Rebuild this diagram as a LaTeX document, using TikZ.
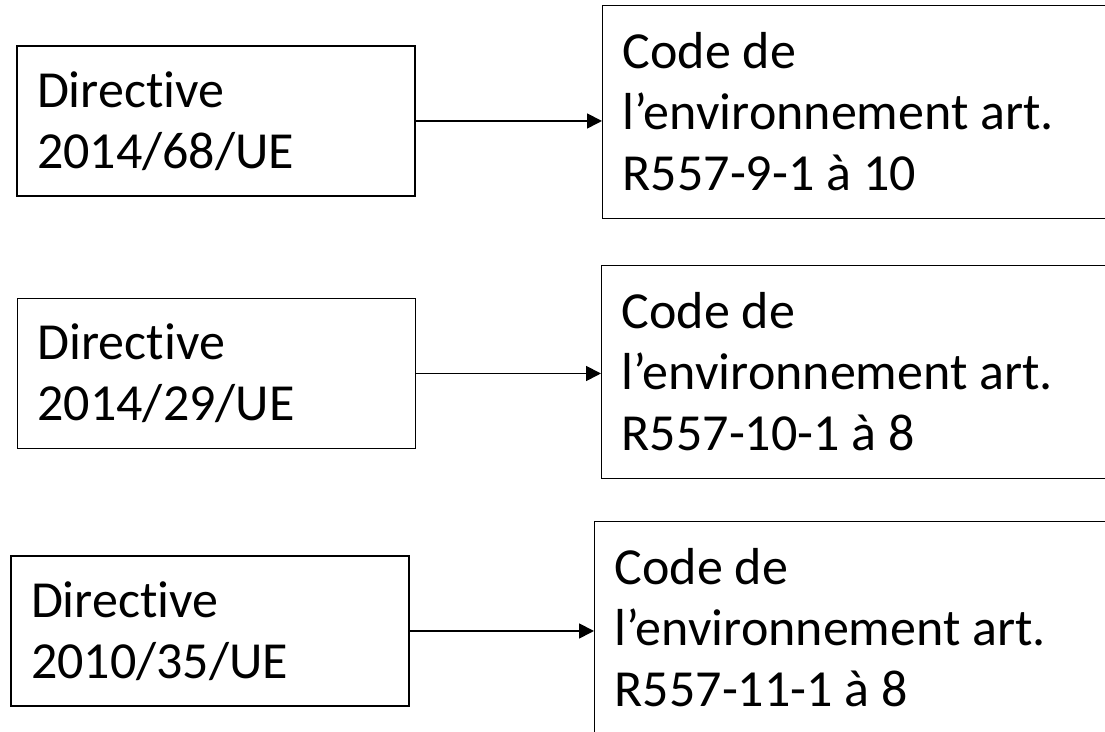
\documentclass[tikz,border=0pt]{standalone}
\usepackage{fontspec}
\setmainfont[Ligatures=NoCommon]{Carlito}
\usetikzlibrary{arrows.meta}

\begin{document}
\begin{tikzpicture}[
  dirbox/.style={rectangle, draw, line width=0.8pt, align=flush left, text width=7.16cm, inner xsep=0.4cm, minimum height=3cm, font=\fontsize{29.6}{34.7}\selectfont},
  codebox/.style={rectangle, draw, line width=0.8pt, align=flush left, text width=12cm, inner xsep=0.4cm, minimum height=4.26cm, anchor=west, font=\fontsize{29.6}{34.7}\selectfont},
  link/.style={-{Triangle[length=0.3cm,width=0.3cm]}, line width=1pt}
]
\useasboundingbox (0,0) rectangle (22.1,14.64);
\clip (0,0) rectangle (22.1,14.64);
\node[dirbox] (dir1) at (4.32,12.22) {Directive\\2014/68/UE};
\node[dirbox] (dir2) at (4.33,7.17) {Directive\\2014/29/UE};
\node[dirbox] (dir3) at (4.2,2.02) {Directive\\2010/35/UE};
\node[codebox] (code1) at (12.04,12.4) {Code de\\l’environnement art.\\R557-9-1 à 10};
\node[codebox] (code2) at (12.02,7.2) {Code de\\l’environnement art.\\R557-10-1 à 8};
\node[codebox] (code3) at (11.88,2.08) {Code de\\l’environnement art.\\R557-11-1 à 8};
\draw[link] (dir1.east) -- (dir1.east -| code1.west);
\draw[link] (dir2.east) -- (dir2.east -| code2.west);
\draw[link] (dir3.east) -- (dir3.east -| code3.west);
\end{tikzpicture}
\end{document}
